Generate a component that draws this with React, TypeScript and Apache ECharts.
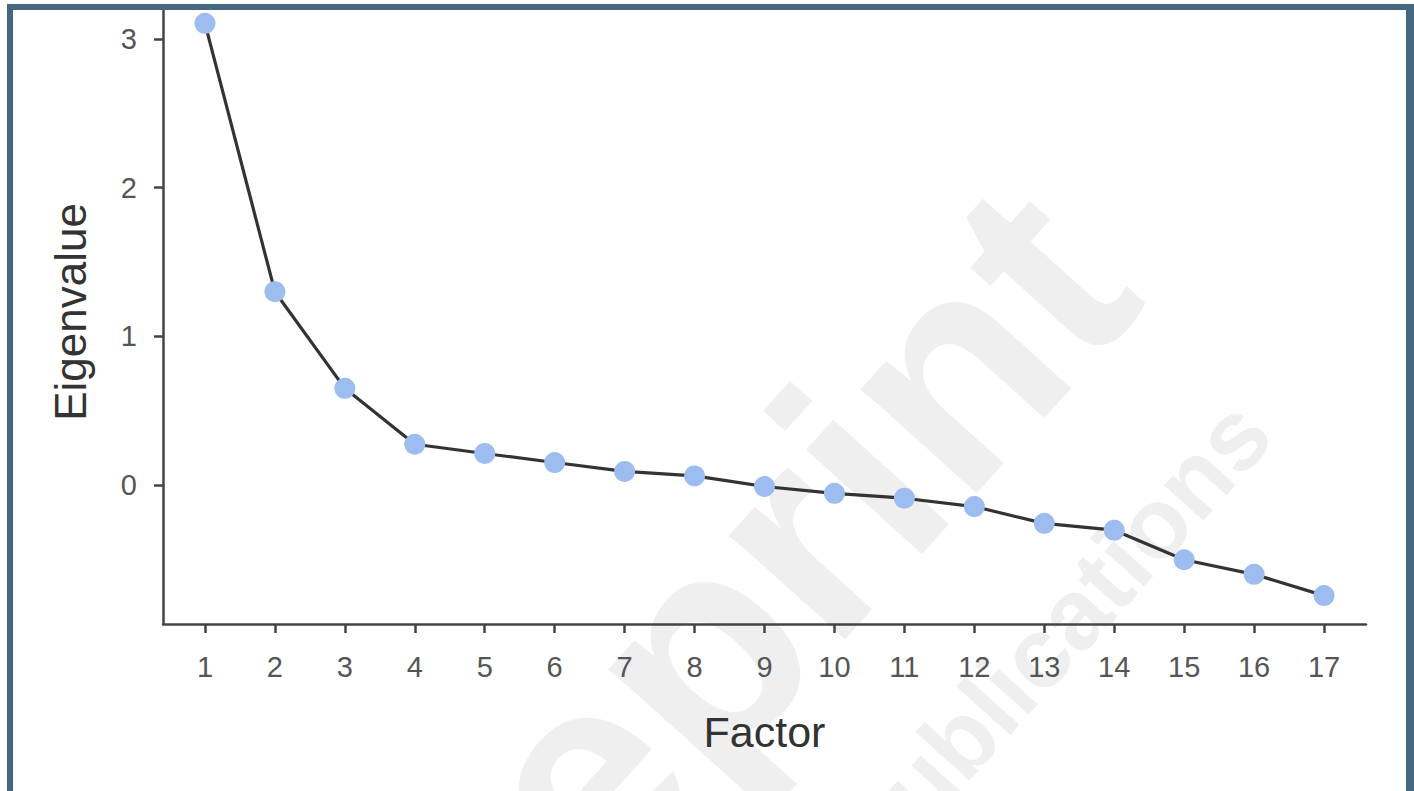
import React, { useEffect, useRef } from "react";
import * as echarts from "echarts";

const factors = [1, 2, 3, 4, 5, 6, 7, 8, 9, 10, 11, 12, 13, 14, 15, 16, 17];
const eigenvalues = [3.105, 1.3, 0.65, 0.274, 0.212, 0.151, 0.091, 0.061, -0.01, -0.056, -0.089, -0.145, -0.258, -0.304, -0.503, -0.601, -0.744];
const xTicks = [1, 2, 3, 4, 5, 6, 7, 8, 9, 10, 11, 12, 13, 14, 15, 16, 17];
const yTicks = [0, 1, 2, 3];
const xTitle = "Factor";
const yTitle = "Eigenvalue";

const FONT = '"Liberation Sans", Arial, Helvetica, sans-serif';
const FRAME = "#45677f";

export default function App() {
  const ref = useRef<HTMLDivElement>(null);
  useEffect(() => {
    if (!ref.current) return;
    const chart = echarts.init(ref.current, null, { renderer: "svg" });
    const deg = (d: number) => (d * Math.PI) / 180;
    chart.setOption({
      animation: false,
      backgroundColor: "#ffffff",
      grid: { left: 163, right: 48, top: 0, bottom: 167, containLabel: false },
      xAxis: {
        type: "value",
        min: 0.4,
        max: 17.6,
        name: xTitle,
        nameLocation: "middle",
        nameGap: 86,
        nameTextStyle: { fontFamily: FONT, fontSize: 43, color: "#333333" },
        axisLine: { show: true, onZero: false, lineStyle: { color: "#444444", width: 2.5 } },
        axisTick: { show: true, customValues: xTicks, length: 9, lineStyle: { color: "#444444", width: 2.5 } },
        axisLabel: { customValues: xTicks, margin: 28, fontFamily: FONT, fontSize: 29, color: "#555555" },
        splitLine: { show: false },
      },
      yAxis: {
        type: "value",
        min: -0.935,
        max: 3.262,
        name: yTitle,
        nameLocation: "middle",
        nameGap: 71,
        nameRotate: 90,
        nameTextStyle: { fontFamily: FONT, fontSize: 44, color: "#333333" },
        axisLine: { show: true, onZero: false, lineStyle: { color: "#444444", width: 2.5 } },
        axisTick: { show: true, customValues: yTicks, length: 9, lineStyle: { color: "#444444", width: 2.5 } },
        axisLabel: { customValues: yTicks, margin: 26, fontFamily: FONT, fontSize: 29, color: "#555555" },
        splitLine: { show: false },
      },
      series: [
        {
          type: "line",
          data: factors.map((f, i) => [f, eigenvalues[i]]),
          symbol: "circle",
          symbolSize: 21,
          showSymbol: true,
          lineStyle: { color: "#333333", width: 3.2 },
          itemStyle: { color: "#9dbdf0", opacity: 1 },
          z: 5,
        },
      ],
      graphic: [
        {
          type: "text",
          x: 1183,
          y: 332,
          rotation: deg(48),
          z: -10,
          silent: true,
          style: { text: "Preprint", font: `bold 295px ${FONT}`, fill: "#efefef", align: "right", textAlign: "right", verticalAlign: "bottom", textVerticalAlign: "bottom" },
        },
        {
          type: "text",
          x: 1288,
          y: 449,
          rotation: deg(48),
          z: -10,
          silent: true,
          style: { text: "publications", font: `bold 100px ${FONT}`, fill: "#efefef", align: "right", textAlign: "right", verticalAlign: "bottom", textVerticalAlign: "bottom" },
        },
        { type: "rect", z: 100, shape: { x: 0, y: 0, width: 1414, height: 4 }, style: { fill: "#ffffff" } },
        { type: "rect", z: 100, shape: { x: 0, y: 0, width: 7, height: 791 }, style: { fill: "#ffffff" } },
        { type: "rect", z: 101, shape: { x: 7, y: 4, width: 1407, height: 6 }, style: { fill: FRAME } },
        { type: "rect", z: 101, shape: { x: 7, y: 4, width: 6, height: 787 }, style: { fill: FRAME } },
        { type: "rect", z: 101, shape: { x: 1406, y: 4, width: 8, height: 787 }, style: { fill: FRAME } },
      ],
    });
    return () => chart.dispose();
  }, []);
  return <div ref={ref} style={{ position: "fixed", left: 0, top: 0, width: 1414, height: 791 }} />;
}
